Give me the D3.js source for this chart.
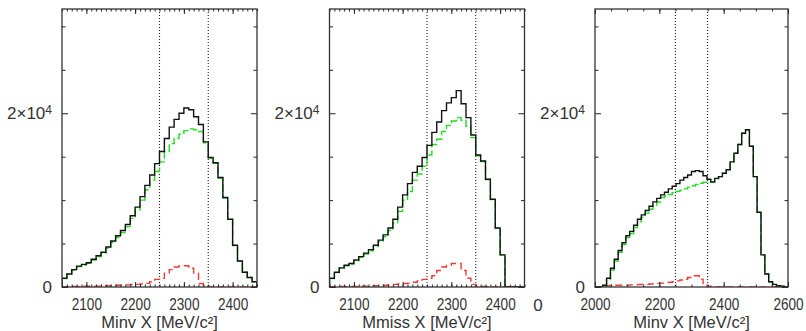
<!DOCTYPE html>
<html>
<head>
<meta charset="utf-8">
<script src="https://cdn.jsdelivr.net/npm/d3@7"></script>
<style>
  body { margin: 0; background: #fff; }
  svg text { font-family: "Liberation Sans", Arial, sans-serif; fill: #333; }
</style>
</head>
<body>
<svg id="chart" width="806" height="331"></svg>
<script>
// ---- data (counts per bin) ----
const binStart = [2050, 2050, 2000];
const binWidth = [10, 10, 12];
const xDomains = [[2050, 2450], [2050, 2450], [2000, 2600]];
const xTitles = ["Minv X [MeV/c\u00B2]", "Mmiss X [MeV/c\u00B2]", "Minv X [MeV/c\u00B2]"];
const xMajorTicks = [[2100, 2200, 2300, 2400], [2100, 2200, 2300, 2400], [2000, 2200, 2400, 2600]];
const xMinorStep = [10, 10, 50];
const cutLines = [2250, 2350];
const yDomain = [0, 32000];
const yMajorTicks = [0, 20000];
const yMinorTicks = [5000, 10000, 15000, 25000, 30000];

// panel 1: Minv X
const total1 = [1000,1500,2000,2400,2600,2800,3200,3600,4000,4600,5300,5900,6500,7200,8200,9200,10400,11700,12900,14200,
                15600,17100,18400,19300,20000,20600,20400,19600,18700,16700,14900,14300,12600,10300,7800,4800,3000,1700,1100,600];
const bkg1   = [960,1460,1940,2340,2520,2720,3100,3500,3880,4450,5120,5700,6280,6950,7900,8850,10000,11200,12300,13300,
                14400,15600,16500,17100,17600,18000,18200,18100,17900,16600,14850,14250,12550,10250,7780,4780,2980,1700,1100,600];
const sig1   = [40,40,60,60,80,80,100,100,120,150,180,200,220,250,280,300,350,420,600,880,
                1000,1600,2000,2300,2450,2450,2150,1600,400,50,30,30,20,20,10,10,10,0,0,0];

// panel 2: Mmiss X
const total2 = [1000,1700,2200,2500,2700,3100,3500,3900,4300,4800,5400,6000,6800,7800,9200,10600,11900,13200,13900,14900,
                16300,17800,19000,20300,21200,21800,22600,21100,19500,17500,15200,14500,12400,10100,6800,3700,0,0,0,0];
const bkg2   = [960,1650,2140,2440,2630,3030,3410,3790,4170,4650,5220,5780,6500,7400,8700,10000,11000,12300,13000,13900,
                15200,16400,17000,17900,18600,19100,19500,19200,18500,17200,15100,14450,12370,10080,6790,3700,0,0,0,0];
const sig2   = [40,40,50,50,60,60,80,100,120,140,160,200,250,300,350,400,450,550,700,880,
                1000,1300,1900,2300,2500,2700,2700,1900,1000,300,100,50,30,20,10,0,0,0,0,0];

// panel 3: Minv X, wide range
const total3 = [0,0,200,1000,2150,3200,4200,5100,5900,6400,7100,7800,8300,8800,9300,9800,10200,10600,10900,11300,
                11600,11900,12300,12600,12900,13300,13400,13300,12800,12400,12100,12500,12700,13100,13500,14400,15400,16400,17700,18100,
                16200,12700,8600,3700,1500,600,300,150,80,0];
const bkg3   = [0,0,150,850,1950,3000,4000,4900,5680,6150,6850,7520,8000,8500,8950,9400,9780,10300,10450,10650,
                10850,11000,11150,11300,11500,11650,11800,11950,12050,12100,12050,12450,12700,13100,13500,14400,15400,16400,17700,18100,
                16200,12700,8600,3700,1500,600,300,150,80,0];
const sig3   = [0,0,50,150,200,200,200,200,220,250,250,280,300,300,350,400,420,450,500,550,
                600,700,800,900,1100,1300,1300,900,300,100,50,20,0,0,0,0,0,0,0,0,
                0,0,0,0,0,0,0,0,0,0];

class HistPanel {
    constructor(svg, frame, idx, series) {
        this.svg = svg;
        this.frame = frame;
        this.idx = idx;
        this.series = series;
    }

    initialize() {
        const f = this.frame;
        this.g = this.svg.append("g");
        this.xScale = d3.scaleLinear().domain(xDomains[this.idx]).range([f.left, f.right]);
        this.yScale = d3.scaleLinear().domain(yDomain).range([f.bottom, f.top]);

        this.clipId = "clip" + this.idx;
        this.svg.append("clipPath").attr("id", this.clipId)
            .append("rect")
            .attr("x", f.left).attr("y", f.top)
            .attr("width", f.right - f.left).attr("height", f.bottom - f.top);
        this.plot = this.g.append("g").attr("clip-path", `url(#${this.clipId})`);
    }

    stepPoints(values) {
        const s = binStart[this.idx], w = binWidth[this.idx], n = values.length;
        const pts = [[s, 0]];
        values.forEach((v, i) => pts.push([s + i * w, v]));
        pts.push([s + n * w, values[n - 1]]);
        pts.push([s + n * w, 0]);
        return pts;
    }

    update() {
        const f = this.frame, x = this.xScale, y = this.yScale;
        const line = d3.line().x(d => x(d[0])).y(d => y(d[1])).curve(d3.curveStepAfter);

        // cut lines
        this.plot.selectAll("line.cut")
            .data(cutLines)
            .join("line")
            .attr("class", "cut")
            .attr("x1", d => x(d)).attr("x2", d => x(d))
            .attr("y1", f.top).attr("y2", f.bottom)
            .attr("stroke", "#222").attr("stroke-width", 1.1)
            .attr("stroke-dasharray", "1,2");

        this.plot.selectAll("path.hist")
            .data(this.series)
            .join("path")
            .attr("class", "hist")
            .attr("fill", "none")
            .attr("stroke", d => d.color)
            .attr("stroke-width", 1.4)
            .attr("stroke-dasharray", d => d.dash)
            .attr("d", d => line(this.stepPoints(d.values)));

        // axes, ticks pointing inward
        const minor = d3.range(xDomains[this.idx][0], xDomains[this.idx][1] + 1, xMinorStep[this.idx]);
        const axes = this.g.append("g").attr("class", "axes");

        axes.append("g")
            .attr("transform", `translate(0,${f.bottom})`)
            .call(d3.axisBottom(x).tickValues(minor).tickSize(-2.5).tickFormat(""));
        axes.append("g")
            .attr("transform", `translate(0,${f.top})`)
            .call(d3.axisTop(x).tickValues(minor).tickSize(-2.5).tickFormat(""));
        axes.append("g")
            .attr("transform", `translate(0,${f.top})`)
            .call(d3.axisTop(x).tickValues(xMajorTicks[this.idx]).tickSize(-5).tickFormat(""));
        const xLab = axes.append("g")
            .attr("transform", `translate(0,${f.bottom})`)
            .call(d3.axisBottom(x).tickValues(xMajorTicks[this.idx]).tickSize(-5).tickPadding(11).tickFormat(d3.format("d")));

        axes.append("g")
            .attr("transform", `translate(${f.right},0)`)
            .call(d3.axisRight(y).tickValues(yMinorTicks).tickSize(-3.5).tickFormat(""));
        axes.append("g")
            .attr("transform", `translate(${f.right},0)`)
            .call(d3.axisRight(y).tickValues(yMajorTicks).tickSize(-6).tickFormat(""));
        axes.append("g")
            .attr("transform", `translate(${f.left},0)`)
            .call(d3.axisLeft(y).tickValues(yMinorTicks).tickSize(-3.5).tickFormat(""));
        const yLab = axes.append("g")
            .attr("transform", `translate(${f.left},0)`)
            .call(d3.axisLeft(y).tickValues(yMajorTicks).tickSize(-6).tickPadding(10).tickFormat(""));

        axes.selectAll(".domain").remove();
        axes.selectAll(".tick line").attr("stroke", "#222").attr("stroke-width", 1);

        xLab.selectAll(".tick text")
            .attr("fill", "#333")
            .style("font-size", "17px")
            .attr("transform", "scale(0.8,1)");

        yLab.selectAll(".tick text")
            .attr("fill", "#333")
            .style("font-size", "17px")
            .each(function (d) {
                const t = d3.select(this);
                if (d === 0) { t.text("0"); return; }
                const exp = Math.floor(Math.log10(d));
                t.append("tspan").text(`${d / Math.pow(10, exp)}\u00D710`);
                t.append("tspan").attr("dy", "-0.45em").style("font-size", "12px").text(exp);
            });

        // frame
        this.g.append("rect")
            .attr("x", f.left).attr("y", f.top)
            .attr("width", f.right - f.left).attr("height", f.bottom - f.top)
            .attr("fill", "none").attr("stroke", "#333").attr("stroke-width", 1.3);

        this.g.append("text")
            .attr("x", (f.left + f.right) / 2)
            .attr("y", f.bottom + 41)
            .attr("text-anchor", "middle")
            .style("font-size", "16.5px")
            .text(xTitles[this.idx]);
    }
}

const svg = d3.select("#chart");
const frames = [
    { left: 62, right: 257, top: 9, bottom: 287 },
    { left: 329.5, right: 524.5, top: 9, bottom: 287 },
    { left: 595, right: 788, top: 9, bottom: 287 }
];
const styles = [
    { color: "#ee3b3b", dash: "7,4" },
    { color: "#22dd22", dash: "8,3" },
    { color: "#111", dash: null }
];
const allSeries = [[sig1, bkg1, total1], [sig2, bkg2, total2], [sig3, bkg3, total3]];

allSeries.forEach((s, i) => {
    const panel = new HistPanel(svg, frames[i], i,
        s.map((values, k) => ({ values, color: styles[k].color, dash: styles[k].dash })));
    panel.initialize();
    panel.update();
});

// stray clipped tick label between panels 2 and 3 in the original figure
svg.append("text")
    .attr("x", 538).attr("y", 311)
    .attr("text-anchor", "middle")
    .style("font-size", "17px")
    .attr("transform", "scale(1,1)")
    .text("0");
</script>
</body>
</html>
